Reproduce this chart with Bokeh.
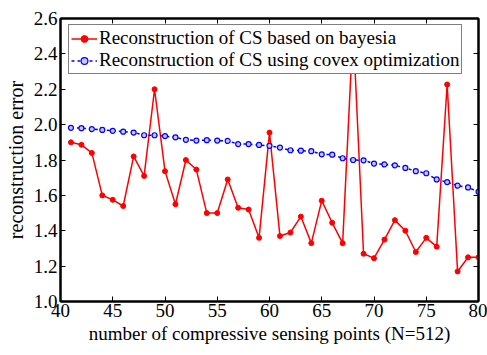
from bokeh.plotting import figure
from bokeh.embed import file_html
from bokeh.resources import INLINE
from bokeh.models import LinearAxis, Range1d, FixedTicker, PrintfTickFormatter, Legend, LegendItem

x_points = list(range(41, 81))
bayes_err = [1.90, 1.886, 1.84, 1.60, 1.575, 1.54, 1.82, 1.71, 2.20, 1.737,
             1.55, 1.80, 1.746, 1.50, 1.50, 1.69, 1.53, 1.52, 1.36, 1.955,
             1.37, 1.39, 1.48, 1.33, 1.57, 1.445, 1.33, 2.55, 1.27, 1.245,
             1.35, 1.46, 1.40, 1.28, 1.36, 1.31, 2.227, 1.17, 1.25, 1.25]
convex_err = [1.982, 1.98, 1.975, 1.97, 1.965, 1.96, 1.955, 1.94, 1.94, 1.935,
              1.928, 1.914, 1.91, 1.912, 1.91, 1.908, 1.89, 1.89, 1.885, 1.88,
              1.87, 1.855, 1.853, 1.85, 1.832, 1.83, 1.81, 1.80, 1.798, 1.78,
              1.775, 1.77, 1.755, 1.737, 1.725, 1.69, 1.675, 1.655, 1.645, 1.62]
x_ticks = [40, 45, 50, 55, 60, 65, 70, 75, 80]
y_ticks = [1.0, 1.2, 1.4, 1.6, 1.8, 2.0, 2.2, 2.4, 2.6]
label_bayes = "Reconstruction of CS based on bayesia"
label_convex = "Reconstruction of CS using covex optimization"
x_title = "number of compressive sensing points (N=512)"
y_title = "reconstruction error"

FONT = "Liberation Serif"

p = figure(width=487, height=355, output_backend="svg", toolbar_location=None,
           x_range=Range1d(40, 80), y_range=Range1d(1.0, 2.6),
           min_border_left=60, min_border_right=9, min_border_top=18, min_border_bottom=54)
p.grid.visible = False
p.outline_line_color = "black"
p.outline_line_width = 2

for ax in [p.xaxis[0], p.yaxis[0]]:
    ax.axis_line_width = 2
    ax.major_tick_in = 5
    ax.major_tick_out = 0
    ax.minor_tick_line_color = None
    ax.major_label_text_font = FONT
    ax.major_label_text_font_size = "19px"
    ax.major_label_text_color = "black"
    ax.axis_label_text_font = FONT
    ax.axis_label_text_font_size = "19px"
    ax.axis_label_text_font_style = "normal"
    ax.axis_label_text_color = "black"

p.yaxis.axis_label_text_font_size = "20px"
p.xaxis.ticker = FixedTicker(ticks=x_ticks)
p.yaxis.ticker = FixedTicker(ticks=y_ticks)
p.yaxis.formatter = PrintfTickFormatter(format="%.1f")
p.xaxis.axis_label = x_title
p.yaxis.axis_label = y_title
p.xaxis.major_label_standoff = 2
p.xaxis.axis_label_standoff = 3
p.yaxis.major_label_standoff = 3
p.yaxis.axis_label_standoff = 4

top = LinearAxis(ticker=FixedTicker(ticks=x_ticks), major_label_text_color=None,
                 major_label_text_font_size="1px",
                 major_tick_in=5, major_tick_out=0, minor_tick_line_color=None,
                 axis_line_width=2, major_label_standoff=0)
right = LinearAxis(ticker=FixedTicker(ticks=y_ticks), major_label_text_color=None,
                   major_label_text_font_size="1px",
                   major_tick_in=5, major_tick_out=0, minor_tick_line_color=None,
                   axis_line_width=2, major_label_standoff=0)
p.add_layout(top, "above")
p.add_layout(right, "right")

r1 = p.line(x_points, bayes_err, line_color="red", line_width=1.5)
m1 = p.scatter(x_points, bayes_err, marker="circle", size=5, fill_color="red", line_color="red")
r2 = p.line(x_points, convex_err, line_color="blue", line_width=1.5, line_dash="3 3")
m2 = p.scatter(x_points, convex_err, marker="circle", size=5, fill_color="#c8c8ff", line_color="blue", line_width=1.2)

legend = Legend(items=[LegendItem(label=label_bayes, renderers=[r1, m1]),
                       LegendItem(label=label_convex, renderers=[r2, m2])],
                location=(8, 227))
legend.label_text_font = FONT
legend.label_text_font_size = "19px"
legend.label_text_color = "black"
legend.border_line_color = "black"
legend.border_line_width = 1.5
legend.padding = 2
legend.spacing = 0
legend.margin = 0
legend.glyph_width = 26
legend.glyph_height = 17
legend.label_height = 17
legend.label_standoff = 2
legend.background_fill_alpha = 1
p.add_layout(legend, "center")

open("out.html", "w").write(file_html(p, INLINE))
